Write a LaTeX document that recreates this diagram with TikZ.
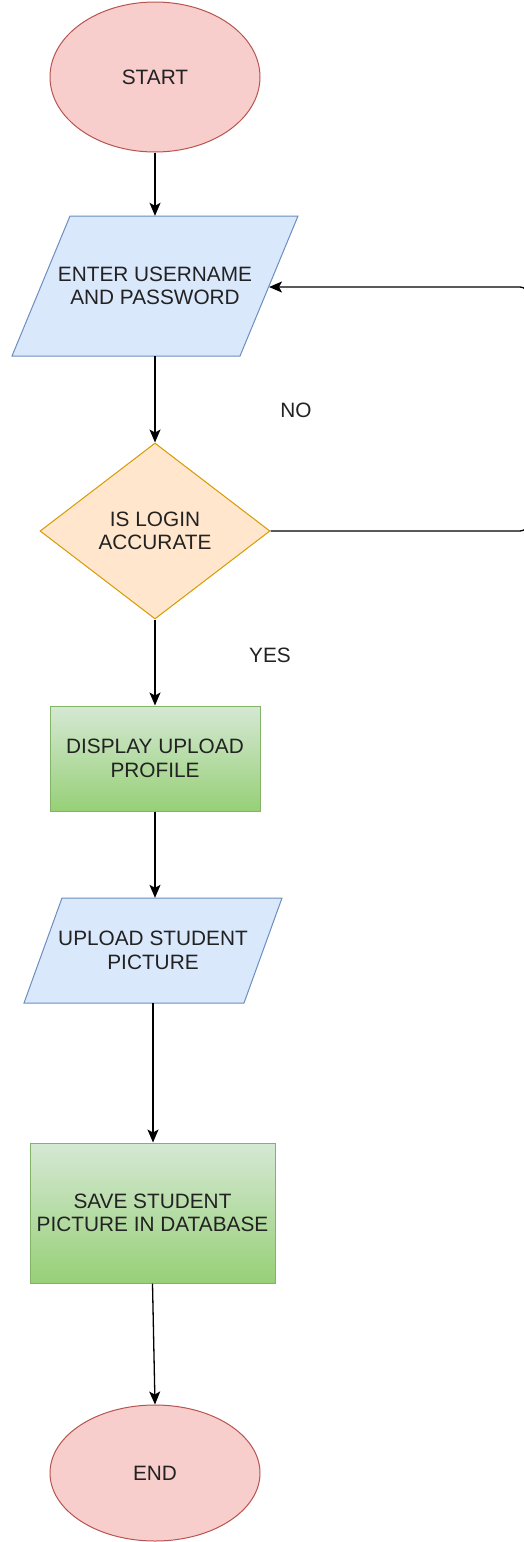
\documentclass[tikz,border=0pt]{standalone}
\usepackage{fontspec}
\setmainfont{Liberation Sans}
\usetikzlibrary{shapes.geometric,arrows.meta}
\definecolor{termfill}{HTML}{F8CECC}
\definecolor{termline}{HTML}{B85450}
\definecolor{iofill}{HTML}{DAE8FC}
\definecolor{ioline}{HTML}{6C8EBF}
\definecolor{decfill}{HTML}{FFE6CC}
\definecolor{decline}{HTML}{D79B00}
\definecolor{proctop}{HTML}{D5E8D4}
\definecolor{procbot}{HTML}{97D077}
\definecolor{procline}{HTML}{82B366}
\definecolor{txt}{HTML}{222222}
\tikzset{
  lbl/.style={font=\fontsize{20.8}{23.5}\selectfont, text=txt, align=center},
  term/.style={ellipse, draw=termline, fill=termfill, line width=1pt, inner sep=0pt, lbl},
  dec/.style={diamond, draw=decline, fill=decfill, line width=1pt, inner sep=0pt, lbl},
  proc/.style={rectangle, draw=procline, top color=proctop, bottom color=procbot, line width=1pt, inner sep=0pt, lbl},
  iobox/.style={rectangle, inner sep=0pt, lbl},
  iofillstyle/.style={draw=ioline, fill=iofill, line width=1pt},
  conn/.style={draw=black, line width=1.3pt, -{Stealth[length=13pt,width=11pt,inset=3pt]}}
}
\begin{document}
\begin{tikzpicture}[x=1pt,y=-1pt]
\useasboundingbox[fill=white] (0,0) rectangle (524,1542);
% shapes
\node[term, minimum width=210pt, minimum height=150pt] (start) at (155,77) {START};
\path[iofillstyle] (70,216) -- (298,216) -- (240,356) -- (12,356) -- cycle;
\node[iobox, minimum width=228pt, minimum height=140pt] (p1) at (155,286) {ENTER USERNAME\\AND PASSWORD};
\coordinate (p1r) at (269,287);
\node[dec, minimum width=230pt, minimum height=176pt] (dia) at (155,531) {IS LOGIN\\ACCURATE};
\node[proc, minimum width=210pt, minimum height=105pt] (box1) at (155,758.5) {DISPLAY UPLOAD\\PROFILE};
\path[iofillstyle] (62,898) -- (282,898) -- (244,1003) -- (24,1003) -- cycle;
\node[iobox, minimum width=220pt, minimum height=105pt] (p2) at (153,950.5) {UPLOAD STUDENT\\PICTURE};
\node[proc, minimum width=245pt, minimum height=140pt] (box2) at (152.5,1213) {SAVE STUDENT\\PICTURE IN DATABASE};
\node[term, minimum width=210pt, minimum height=136pt] (end) at (155,1473) {END};
% labels
\node[lbl] (no) at (296,410) {NO};
\node[lbl] (yes) at (270,655) {YES};
% connectors
\draw[conn] (start.south) -- (p1.north);
\draw[conn] (p1.south) -- (dia.north);
\draw[conn] (dia.south) -- (box1.north);
\draw[conn] (box1.south) -- (box1.south |- p2.north);
\draw[conn] (p2.south) -- (p2.south |- box2.north);
\draw[conn] (box2.south) -- (end.north);
\coordinate (lp1) at (528,531);
\coordinate (lp2) at (528,287);
\draw[conn, rounded corners=8pt] (dia.east) -- (lp1) -- (lp2) -- (p1r);
\end{tikzpicture}
\end{document}
